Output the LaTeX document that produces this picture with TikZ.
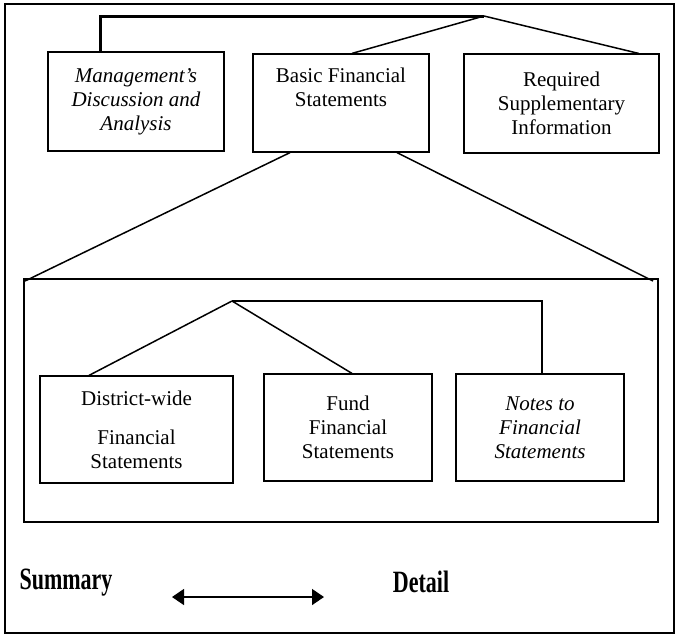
\documentclass[tikz,border=0pt]{standalone}
\usepackage{fontspec}
\usepackage{graphicx}
\setmainfont{Liberation Serif}
\usetikzlibrary{arrows.meta,calc}
\tikzset{
  box/.style={draw, line width=1.2pt, inner sep=0pt, align=center,
    font=\fontsize{21}{24}\selectfont},
  conn/.style={line width=1.5pt},
  thickconn/.style={line width=3pt},
  midconn/.style={line width=2pt},
  big/.style={font=\fontsize{31}{33}\bfseries, inner sep=0pt}
}
\begin{document}
\begin{tikzpicture}[x=1pt,y=-1pt]
\useasboundingbox (0,0) rectangle (679,635);
\draw[line width=2pt] (5,4) rectangle (674,633);
% top row
\node[box, minimum width=176pt, minimum height=99pt] (mda) at (136,101.5)
  {\itshape Management's\\\itshape Discussion and\\\itshape Analysis};
\node[box, minimum width=176pt, minimum height=98pt] (bfs) at (341,103)
  {Basic Financial\\Statements\\\strut};
\node[box, minimum width=195pt, minimum height=99pt] (rsi) at (561.5,103.5)
  {Required\\Supplementary\\Information};
\coordinate (top) at (484,16);
\draw[thickconn] ([xshift=53pt]mda.north west) |- (top);
\draw[conn] (top) -- ([xshift=11pt]bfs.north);
\draw[conn] (top) -- ([xshift=-21pt]rsi.north east);
% inner frame
\node[draw, line width=2pt, minimum width=634pt, minimum height=243pt, inner sep=0pt] (inner) at (341,400.5) {};
\draw[conn] ([xshift=-51pt]bfs.south) -- ([xshift=2pt,yshift=-3pt]inner.north west);
\draw[conn] ([xshift=56pt]bfs.south) -- ([xshift=-6pt,yshift=-3pt]inner.north east);
% inner row
\node[box, minimum width=193pt, minimum height=107pt] (dw) at (136.5,429.5)
  {District-wide\\[15pt]Financial\\Statements};
\node[box, minimum width=168pt, minimum height=107pt] (fund) at (348,427.5)
  {Fund\\Financial\\Statements};
\node[box, minimum width=168pt, minimum height=107pt] (notes) at (540,427.5)
  {\itshape Notes to\\\itshape Financial\\\itshape Statements};
\coordinate (apex) at (232,301);
\draw[conn] (apex) -- ([xshift=-47.5pt]dw.north);
\draw[conn] (apex) -- ([xshift=4pt]fund.north);
\draw[midconn] (apex) -| ([xshift=2pt]notes.north);
% bottom
\node[big] (sum) at (66,583) {\scalebox{0.71}[1]{Summary}};
\node[big] (det) at (421,582) {\scalebox{0.71}[1]{Detail}};
\coordinate (al) at (172,597);
\coordinate (ar) at (324,597);
\draw[line width=1.5pt, {Triangle[length=12pt,width=16pt]}-{Triangle[length=12pt,width=16pt]}] (al) -- (ar);
\end{tikzpicture}
\end{document}
